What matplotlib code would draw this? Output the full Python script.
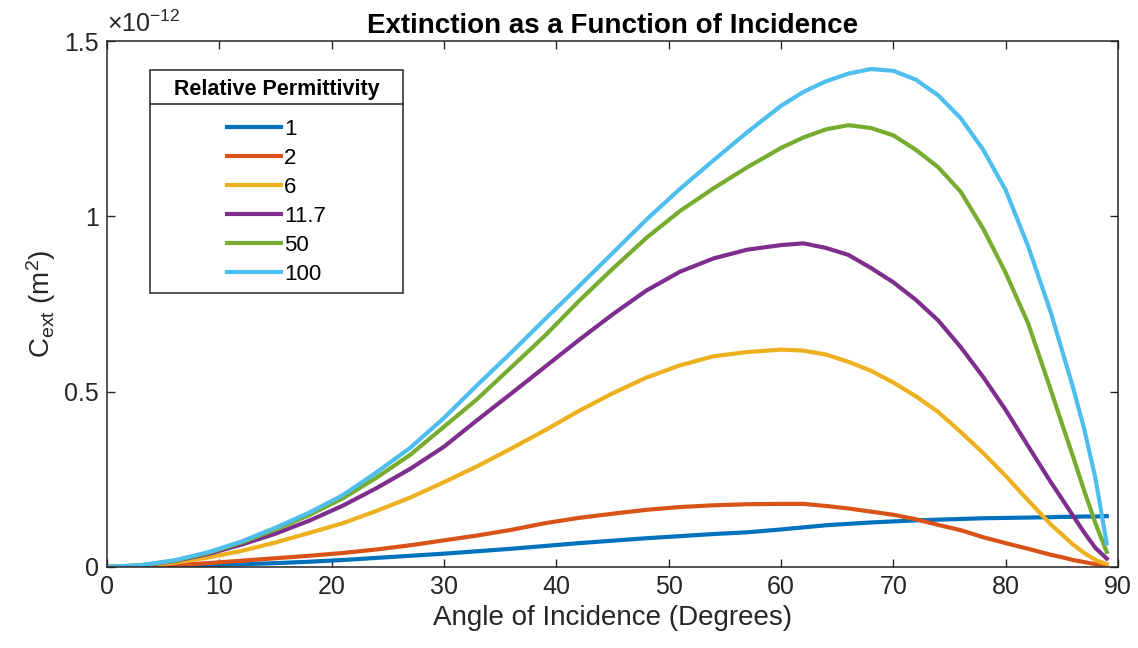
import matplotlib
matplotlib.use("Agg")
import matplotlib.pyplot as plt
from matplotlib.ticker import FuncFormatter
from matplotlib.lines import Line2D

plt.rcParams['font.family'] = ['Liberation Sans', 'DejaVu Sans']
plt.rcParams['mathtext.fontset'] = 'custom'
plt.rcParams['mathtext.rm'] = 'Liberation Sans'
plt.rcParams['mathtext.it'] = 'Liberation Sans:italic'

SCALE = 1e-12  # C_ext values below are in units of 1e-12 m^2

angles = [0, 3, 6, 9, 12, 15, 18, 21, 24, 27, 30, 33, 36, 39, 42, 45, 48,
          51, 54, 57, 60, 62, 64, 66, 68, 70, 72, 74, 76, 78, 80, 82, 84,
          85, 86, 87, 88, 89]

eps_labels = ['1', '2', '6', '11.7', '50', '100']

x_ticks = [0, 10, 20, 30, 40, 50, 60, 70, 80, 90]
y_ticks = [0, 0.5, 1, 1.5]

cext_1 = [0, 0.001, 0.002, 0.005, 0.008, 0.011, 0.015, 0.020, 0.026, 0.032,
          0.038, 0.045, 0.052, 0.060, 0.068, 0.075, 0.082, 0.088, 0.094,
          0.099, 0.107, 0.113, 0.119, 0.123, 0.127, 0.130, 0.133, 0.135,
          0.137, 0.139, 0.140, 0.141, 0.142, 0.143, 0.143, 0.144, 0.144, 0.145]
cext_2 = [0, 0.001, 0.005, 0.011, 0.018, 0.025, 0.032, 0.040, 0.050, 0.062,
          0.076, 0.090, 0.106, 0.125, 0.140, 0.152, 0.163, 0.171, 0.176,
          0.179, 0.180, 0.180, 0.174, 0.167, 0.158, 0.149, 0.136, 0.120,
          0.105, 0.085, 0.068, 0.052, 0.035, 0.028, 0.020, 0.014, 0.008, 0.004]
cext_6 = [0, 0.003, 0.012, 0.027, 0.046, 0.070, 0.097, 0.125, 0.160, 0.198,
          0.242, 0.288, 0.338, 0.390, 0.445, 0.495, 0.540, 0.575, 0.601,
          0.613, 0.620, 0.617, 0.606, 0.585, 0.560, 0.526, 0.487, 0.442,
          0.385, 0.325, 0.260, 0.190, 0.122, 0.093, 0.064, 0.040, 0.020, 0.008]
cext_11_7 = [0, 0.004, 0.017, 0.037, 0.064, 0.095, 0.132, 0.175, 0.225, 0.280,
             0.343, 0.420, 0.495, 0.571, 0.647, 0.720, 0.788, 0.842, 0.880,
             0.905, 0.918, 0.923, 0.910, 0.890, 0.853, 0.812, 0.762, 0.703,
             0.627, 0.542, 0.448, 0.345, 0.243, 0.195, 0.146, 0.098, 0.054,
             0.024]
cext_50 = [0, 0.005, 0.018, 0.040, 0.070, 0.107, 0.148, 0.196, 0.255, 0.320,
           0.400, 0.480, 0.570, 0.660, 0.758, 0.850, 0.938, 1.015, 1.080,
           1.140, 1.195, 1.225, 1.248, 1.260, 1.252, 1.231, 1.190, 1.140,
           1.070, 0.965, 0.839, 0.695, 0.507, 0.410, 0.315, 0.217, 0.124,
           0.043]
cext_100 = [0, 0.005, 0.019, 0.042, 0.073, 0.112, 0.155, 0.205, 0.270, 0.340,
            0.425, 0.520, 0.612, 0.707, 0.800, 0.895, 0.990, 1.078, 1.160,
            1.240, 1.315, 1.355, 1.385, 1.407, 1.420, 1.415, 1.390, 1.345,
            1.280, 1.190, 1.075, 0.915, 0.728, 0.620, 0.512, 0.393, 0.252,
            0.067]

series = [cext_1, cext_2, cext_6, cext_11_7, cext_50, cext_100]
colors = ['#0072BD', '#D95319', '#EDB120', '#7E2F8E', '#77AC30', '#4DBEEE']
ink = '#262626'

fig = plt.figure(figsize=(11.38, 6.48), dpi=100)
ax = fig.add_axes([0.094, 0.125, 0.8884, 0.8117])

for vals, lab, col in zip(series, eps_labels, colors):
    ax.plot(angles, [v * SCALE for v in vals], color=col, lw=3, label=lab)

ax.set_xlim(0, 90)
ax.set_ylim(0, 1.5 * SCALE)
ax.set_xticks(x_ticks)
ax.set_yticks([t * SCALE for t in y_ticks])
ax.yaxis.set_major_formatter(FuncFormatter(lambda v, p: f"{v / SCALE:g}"))

ax.tick_params(direction='in', length=6, width=1, top=True, right=True,
               labelsize=18, colors=ink, pad=6)
for s in ax.spines.values():
    s.set_color(ink)
    s.set_linewidth(1.1)

ax.set_xlabel('Angle of Incidence (Degrees)', fontsize=20, color=ink,
              labelpad=4)
ax.set_ylabel(r'C$_{\rm ext}$ (m$^2$)', fontsize=20, color=ink, labelpad=4)
ax.set_title('Extinction as a Function of Incidence', fontsize=20,
             fontweight='bold', color='black', pad=6)
ax.text(0.0, 1.008, r'$\times$10$^{-12}$', transform=ax.transAxes,
        fontsize=18, color=ink, ha='left', va='bottom')

leg = ax.legend(loc='upper left', bbox_to_anchor=(0.0425, 0.5, 0.2503, 0.445),
                mode='expand', borderaxespad=0, fontsize=16,
                title='Relative Permittivity',
                title_fontproperties={'weight': 'bold', 'size': 15.5},
                fancybox=False, framealpha=1, edgecolor=ink,
                handlelength=2.4, handletextpad=0.15, labelspacing=0.36,
                borderpad=0.4)
leg.get_frame().set_linewidth(1.1)
# keep the entry column centred under the title inside the wide box
leg._legend_handle_box.mode = 'fixed'
leg._legend_box.sep = 13.5

# separator under the legend title
fig.canvas.draw()
lb = leg.get_window_extent()
tb = leg.get_title().get_window_extent()
ysep = tb.y0 - 4
fig.add_artist(Line2D([lb.x0, lb.x1], [ysep, ysep], transform=None,
                      color=ink, lw=1.1))

fig.savefig('out.png', dpi=100)
